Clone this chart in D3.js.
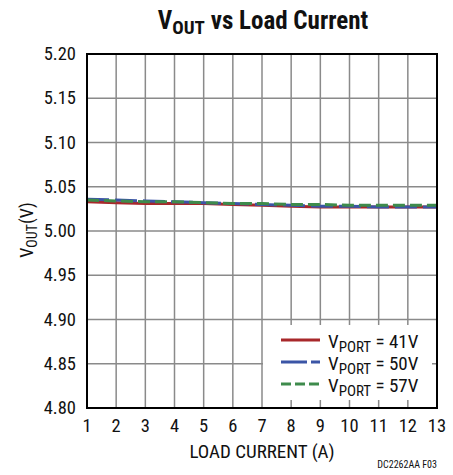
<!DOCTYPE html>
<html><head><meta charset="utf-8">
<script src="https://cdn.jsdelivr.net/npm/d3@7"></script>
<style>
body{margin:0;background:#fff;}
text{font-family:"Liberation Sans Narrow","Roboto Condensed","Liberation Sans",sans-serif;}
</style></head>
<body><svg id="c" width="453" height="475"></svg>
<script>
const loadCurrent = [1,2,3,4,5,6,7,8,9,10,11,12,13];
const v41 = [5.033,5.032,5.031,5.031,5.031,5.030,5.029,5.028,5.027,5.027,5.027,5.027,5.027];
const v50 = [5.036,5.035,5.034,5.033,5.032,5.031,5.030,5.029,5.028,5.028,5.027,5.027,5.027];
const v57 = [5.035,5.034,5.033,5.033,5.032,5.031,5.031,5.030,5.030,5.029,5.029,5.029,5.029];
const yTicks = [4.80,4.85,4.90,4.95,5.00,5.05,5.10,5.15,5.20];
const xTicks = [1,2,3,4,5,6,7,8,9,10,11,12,13];
const seriesNames = ["41V","50V","57V"];

const svg = d3.select("#c");
const L=87, R=437, T=54, B=408;
const x = d3.scaleLinear().domain([1,13]).range([L,R]);
const y = d3.scaleLinear().domain([4.80,5.20]).range([B,T]);

// grid
svg.append("g").selectAll("line").data(xTicks.slice(1,-1)).join("line")
  .attr("x1",d=>x(d)).attr("x2",d=>x(d)).attr("y1",T).attr("y2",B)
  .attr("stroke","#8a8a8a").attr("stroke-width",1.5);
svg.append("g").selectAll("line").data(yTicks.slice(1,-1)).join("line")
  .attr("x1",L).attr("x2",R).attr("y1",d=>y(d)).attr("y2",d=>y(d))
  .attr("stroke","#8a8a8a").attr("stroke-width",1.5);

// series
const series = [
  {name:seriesNames[0], vals:v41, color:"#a8282b", dash:null},
  {name:seriesNames[1], vals:v50, color:"#3b55a6", dash:"22,6"},
  {name:seriesNames[2], vals:v57, color:"#3e8b4c", dash:"12,5"}
];
const line = d3.line().x((d,i)=>x(loadCurrent[i])).y(d=>y(d));
series.forEach(s=>{
  svg.append("path").datum(s.vals).attr("d",line).attr("fill","none")
    .attr("stroke",s.color).attr("stroke-width",3)
    .attr("stroke-dasharray",s.dash);
});

// legend box
svg.append("rect").attr("x",263).attr("y",325).attr("width",169).attr("height",75).attr("fill","#fff");
series.forEach((s,i)=>{
  const ly = 340 + i*22;
  svg.append("line").attr("x1",281).attr("x2",320).attr("y1",ly).attr("y2",ly)
    .attr("stroke",s.color).attr("stroke-width",3)
    .attr("stroke-dasharray",i==1?"26,4":(i==2?"10,4":null));
  const t = svg.append("text").attr("x",328).attr("y",ly+8).attr("font-size",19).attr("fill","#111");
  t.append("tspan").text("V");
  t.append("tspan").attr("font-size",15).attr("dy",4).text("PORT");
  t.append("tspan").attr("dy",-4).text(" = "+s.name);
});

// frame
svg.append("rect").attr("x",L).attr("y",T).attr("width",R-L).attr("height",B-T)
  .attr("fill","none").attr("stroke","#000").attr("stroke-width",2);

// y tick labels
svg.append("g").selectAll("text").data(yTicks).join("text")
  .attr("x",76).attr("y",d=>y(d)+6).attr("text-anchor","end").attr("font-size",18.5).attr("fill","#111")
  .text(d=>d.toFixed(2));
// x tick labels
svg.append("g").selectAll("text").data(xTicks).join("text")
  .attr("x",d=>x(d)).attr("y",432).attr("text-anchor","middle").attr("font-size",18.5).attr("fill","#111")
  .text(d=>d);

// axis titles
svg.append("text").attr("x",262).attr("y",458).attr("text-anchor","middle").attr("font-size",19).attr("fill","#111")
  .text("LOAD CURRENT (A)");
const yt = svg.append("text").attr("transform","translate(33,230) rotate(-90)").attr("text-anchor","middle")
  .attr("font-size",18).attr("fill","#111");
yt.append("tspan").text("V");
yt.append("tspan").attr("font-size",14).attr("dy",4).text("OUT");
yt.append("tspan").attr("dy",-4).text("(V)");

// title
const tt = svg.append("text").attr("x",263).attr("y",29).attr("text-anchor","middle")
  .attr("font-size",25).attr("font-weight","bold").attr("fill","#111");
tt.append("tspan").text("V");
tt.append("tspan").attr("font-size",19).attr("dy",5).text("OUT");
tt.append("tspan").attr("dy",-5).text(" vs Load Current");

svg.append("text").attr("x",437).attr("y",468).attr("text-anchor","end").attr("font-size",10).attr("fill","#111")
  .text("DC2262AA F03");
</script></body></html>
